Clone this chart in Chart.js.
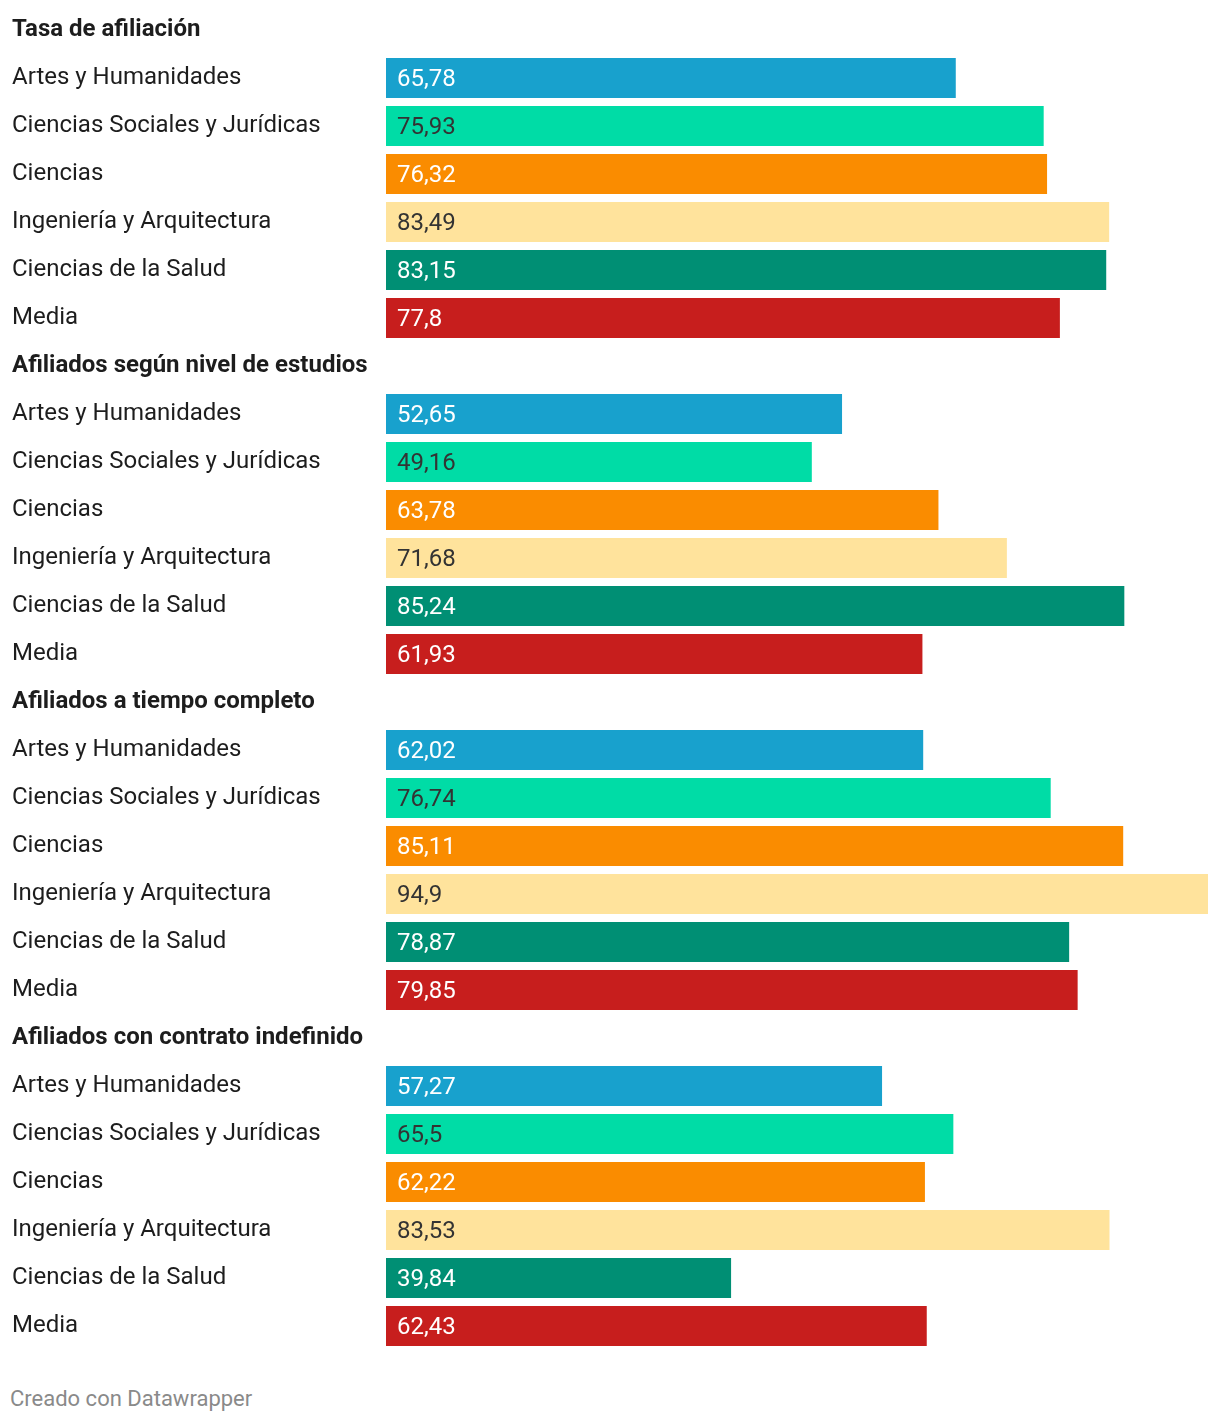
<!DOCTYPE html>
<html>
<head>
<meta charset="utf-8">
<script src="https://cdn.jsdelivr.net/npm/chart.js@4"></script>
<style>
  body { margin: 0; background: #fff; font-family: Roboto, sans-serif; }
  #wrap { position: relative; width: 1220px; height: 1362px; }
  #note { position: absolute; left: 10px; top: 1386px; font-size: 22px; color: #8a8a8a; font-family: Roboto, sans-serif; }
</style>
</head>
<body>
<div id="wrap"><canvas id="myChart"></canvas></div>
<div id="note">Creado con Datawrapper</div>
<script>
// group titles
let groups = ['Tasa de afiliación', 'Afiliados según nivel de estudios', 'Afiliados a tiempo completo', 'Afiliados con contrato indefinido'];
// categories inside each group
let categories = ['Artes y Humanidades', 'Ciencias Sociales y Jurídicas', 'Ciencias', 'Ingeniería y Arquitectura', 'Ciencias de la Salud', 'Media'];
// values per group
let tasa = [65.78, 75.93, 76.32, 83.49, 83.15, 77.8];
let nivel = [52.65, 49.16, 63.78, 71.68, 85.24, 61.93];
let tiempo = [62.02, 76.74, 85.11, 94.9, 78.87, 79.85];
let contrato = [57.27, 65.5, 62.22, 83.53, 39.84, 62.43];
//colors per category
let colors = ['#18a1cd', '#00dca6', '#fa8c00', '#ffe39c', '#008f74', '#c71e1d'];
let textColors = ['#ffffff', '#333333', '#ffffff', '#333333', '#ffffff', '#ffffff'];

let allValues = [tasa, nivel, tiempo, contrato];
let labels = [], data = [], barColors = [], labelColors = [], isTitle = [];
groups.forEach(function (g, gi) {
    labels.push(g); data.push(null); barColors.push('#fff'); labelColors.push('#fff'); isTitle.push(true);
    categories.forEach(function (c, ci) {
        labels.push(c);
        data.push(allValues[gi][ci]);
        barColors.push(colors[ci]);
        labelColors.push(textColors[ci]);
        isTitle.push(false);
    });
});

function fmt(v) { return String(v).replace('.', ','); }

// draws the value inside each bar
let valueLabels = {
    id: 'valueLabels',
    afterDatasetsDraw: function (chart) {
        let ctx = chart.ctx;
        let meta = chart.getDatasetMeta(0);
        ctx.save();
        ctx.font = '24px Roboto';
        ctx.textBaseline = 'middle';
        ctx.textAlign = 'left';
        meta.data.forEach(function (bar, i) {
            if (data[i] == null) return;
            ctx.fillStyle = labelColors[i];
            ctx.fillText(fmt(data[i]), bar.base + 11, bar.y + 2);
        });
        ctx.restore();
    }
};

let myChart = new Chart(document.getElementById('myChart'), {
    type: 'bar',
    data: {
        labels: labels,
        datasets: [{
            data: data,
            backgroundColor: barColors,
            barPercentage: 40 / 48,
            categoryPercentage: 1
        }]
    },
    options: {
        indexAxis: 'y',
        responsive: true,
        maintainAspectRatio: false,
        animation: false,
        layout: { padding: { top: 6, bottom: 12, right: 12, left: 12 } },
        plugins: { legend: { display: false }, tooltip: { enabled: false } },
        scales: {
            x: {
                min: 0, max: 94.9,
                display: false
            },
            y: {
                grid: { display: false, drawTicks: false },
                border: { display: false },
                afterFit: function (scale) {
                    scale.width = 374;
                    scale.paddingTop = 0;
                    scale.paddingBottom = 0;
                },
                ticks: {
                    crossAlign: 'far',
                    padding: 0,
                    color: '#1d1d1d',
                    font: function (c) {
                        return isTitle[c.index] ? { family: 'Roboto', size: 24, weight: 'bold' } : { family: 'Roboto', size: 24 };
                    }
                }
            }
        }
    },
    plugins: [valueLabels]
});
</script>
</body>
</html>
